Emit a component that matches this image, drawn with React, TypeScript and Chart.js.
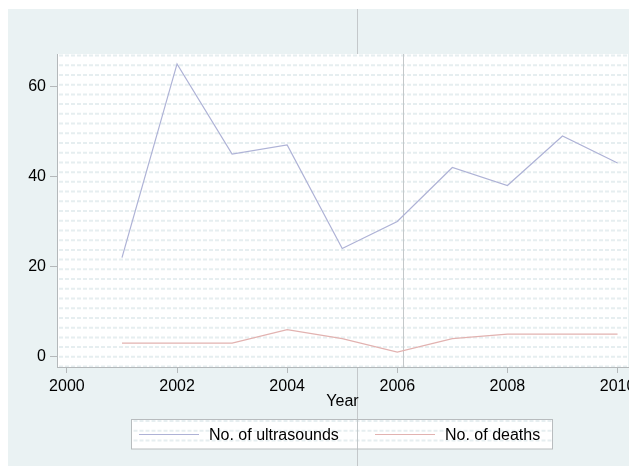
import React, { useEffect, useRef } from "react";
import { Chart, registerables } from "chart.js";

Chart.register(...registerables);

const years = [2001, 2002, 2003, 2004, 2005, 2006, 2007, 2008, 2009, 2010];
const ultrasounds = [22, 65, 45, 47, 24, 30, 42, 38, 49, 43];
const deaths = [3, 3, 3, 6, 4, 1, 4, 5, 5, 5];
const xTicks = [2000, 2002, 2004, 2006, 2008, 2010];
const yTicks = [0, 20, 40, 60];
const seriesLabels = ["No. of ultrasounds", "No. of deaths"];
const xTitle = "Year";
// reference lines (in data units of the x axis)
const innerRefYear = 2006.1;
const outerRefYear = 2005.27;

const BG = "#eaf2f3";
const AXIS = "#b4b8ba";
const PATTERN = "#e6eef0";
const US_COLOR = "#aeb2d6";
const DEATH_COLOR = "#e2b2b0";
const FONT = "Liberation Sans, Arial, sans-serif";

const W = 621;
const H = 457;

function drawPattern(ctx: CanvasRenderingContext2D, x0: number, y0: number, x1: number, y1: number) {
  ctx.save();
  ctx.beginPath();
  ctx.rect(x0, y0, x1 - x0, y1 - y0);
  ctx.clip();
  ctx.strokeStyle = PATTERN;
  ctx.lineWidth = 2;
  ctx.setLineDash([4, 2]);
  for (let y = y0 + 1.5; y < y1; y += 9.72) {
    ctx.beginPath();
    ctx.moveTo(x0 + 2, y);
    ctx.lineTo(x1, y);
    ctx.stroke();
  }
  ctx.restore();
}

const decorPlugin = {
  id: "decor",
  beforeDraw(chart: any) {
    const { ctx, chartArea, scales } = chart;
    ctx.save();
    ctx.fillStyle = BG;
    ctx.fillRect(0, 0, chart.width, chart.height);
    // outer reference line spanning whole figure
    const ox = Math.round(scales.x.getPixelForValue(outerRefYear)) + 0.5;
    ctx.strokeStyle = "#c4c8ca";
    ctx.lineWidth = 1;
    ctx.beginPath();
    ctx.moveTo(ox, 0);
    ctx.lineTo(ox, chart.height);
    ctx.stroke();
    // plot region
    ctx.fillStyle = "#ffffff";
    ctx.fillRect(chartArea.left, chartArea.top, chartArea.right - chartArea.left, chartArea.bottom - chartArea.top);
    drawPattern(ctx, chartArea.left, chartArea.top, chartArea.right, chartArea.bottom);
    // inner reference line
    const ix = Math.round(scales.x.getPixelForValue(innerRefYear)) + 0.5;
    ctx.strokeStyle = "#c4c8ca";
    ctx.beginPath();
    ctx.moveTo(ix, chartArea.top);
    ctx.lineTo(ix, chartArea.bottom);
    ctx.stroke();
    ctx.restore();
  },
  afterDraw(chart: any) {
    const { ctx } = chart;
    ctx.save();
    // legend box
    const lx0 = 123.5, lx1 = 544.5, ly0 = 410.5, ly1 = 440;
    ctx.fillStyle = "#ffffff";
    ctx.fillRect(lx0, ly0, lx1 - lx0, ly1 - ly0);
    drawPattern(ctx, lx0, ly0, lx1, ly1);
    // outer line passes over legend
    const ox = Math.round(chart.scales.x.getPixelForValue(outerRefYear)) + 0.5;
    ctx.strokeStyle = "#c4c8ca";
    ctx.lineWidth = 1;
    ctx.beginPath();
    ctx.moveTo(ox, ly0);
    ctx.lineTo(ox, ly1);
    ctx.stroke();
    ctx.strokeStyle = "#b8bcbe";
    ctx.strokeRect(lx0, ly0, lx1 - lx0, ly1 - ly0);
    const cy = 425.5;
    const items = [
      { color: US_COLOR, label: chart.data.datasets[0].label, x: 131 },
      { color: DEATH_COLOR, label: chart.data.datasets[1].label, x: 367 },
    ];
    ctx.font = "16px " + FONT;
    ctx.textBaseline = "middle";
    ctx.fillStyle = "#000";
    for (const it of items) {
      ctx.strokeStyle = it.color;
      ctx.beginPath();
      ctx.moveTo(it.x, cy);
      ctx.lineTo(it.x + 60, cy);
      ctx.stroke();
      ctx.fillText(it.label, it.x + 70, cy + 1);
    }
    ctx.restore();
  },
};

export default function App() {
  const ref = useRef<HTMLCanvasElement>(null);
  useEffect(() => {
    const chart = new Chart(ref.current!, {
      type: "line",
      data: {
        datasets: [
          {
            label: seriesLabels[0],
            data: years.map((y, i) => ({ x: y, y: ultrasounds[i] })),
            borderColor: US_COLOR,
            borderWidth: 1.2,
            pointRadius: 0,
            tension: 0,
          },
          {
            label: seriesLabels[1],
            data: years.map((y, i) => ({ x: y, y: deaths[i] })),
            borderColor: DEATH_COLOR,
            borderWidth: 1.2,
            pointRadius: 0,
            tension: 0,
          },
        ],
      },
      options: {
        animation: false,
        responsive: false,
        layout: { autoPadding: false, padding: { top: 45, right: 1, left: 0, bottom: 0 } },
        plugins: { legend: { display: false }, tooltip: { enabled: false } },
        scales: {
          x: {
            type: "linear",
            min: 1999.82,
            max: 2010.19,
            afterBuildTicks: (s: any) => {
              s.ticks = xTicks.map((v) => ({ value: v }));
            },
            afterFit: (s: any) => {
              s.height = 99;
              s.paddingLeft = 0;
              s.paddingRight = 0;
            },
            border: { display: true, color: AXIS, width: 1 },
            grid: { drawOnChartArea: false, tickLength: 6, color: AXIS },
            ticks: {
              color: "#000",
              font: { size: 16, family: FONT },
              padding: 4,
              maxRotation: 0,
              autoSkip: false,
              callback: (v: any) => String(v),
            },
            title: {
              display: true,
              text: xTitle,
              color: "#000",
              font: { size: 16, family: FONT },
              padding: { top: 0, bottom: 55 },
            },
          },
          y: {
            type: "linear",
            min: -2.3,
            max: 67.2,
            afterBuildTicks: (s: any) => {
              s.ticks = yTicks.map((v) => ({ value: v }));
            },
            afterFit: (s: any) => {
              s.width = 49;
              s.paddingTop = 0;
              s.paddingBottom = 0;
            },
            border: { display: true, color: AXIS, width: 1 },
            grid: { drawOnChartArea: false, tickLength: 7, color: AXIS },
            ticks: {
              color: "#000",
              font: { size: 16, family: FONT },
              padding: 4,
              callback: (v: any) => String(v),
            },
          },
        },
      },
      plugins: [decorPlugin],
    } as any);
    return () => chart.destroy();
  }, []);
  return (
    <div style={{ position: "fixed", left: 8, top: 9, width: W, height: H }}>
      <canvas ref={ref} width={W} height={H} style={{ display: "block", width: W, height: H }} />
    </div>
  );
}
